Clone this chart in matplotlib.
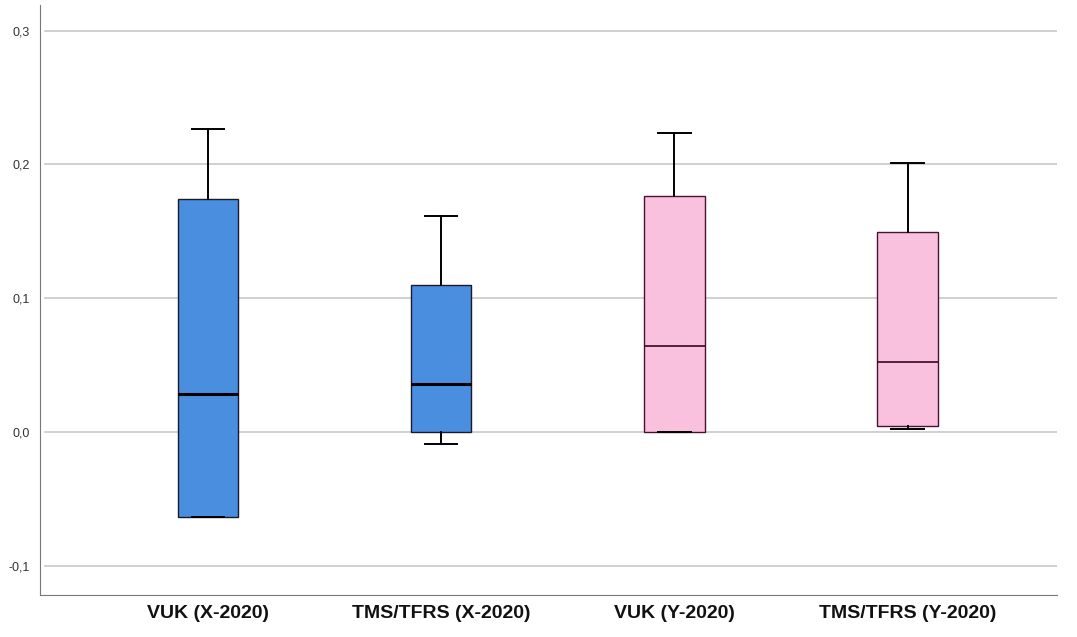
import matplotlib
matplotlib.use("Agg")
import matplotlib.pyplot as plt

categories = ["VUK (X-2020)", "TMS/TFRS (X-2020)", "VUK (Y-2020)", "TMS/TFRS (Y-2020)"]
whisker_low = [-0.064, -0.009, 0.0, 0.002]
q1 = [-0.064, 0.0, 0.0, 0.0045]
median = [0.028, 0.036, 0.064, 0.052]
q3 = [0.174, 0.110, 0.176, 0.1495]
whisker_high = [0.2265, 0.161, 0.2235, 0.201]
box_colors = ["#4a8ee0", "#4a8ee0", "#f9c1dd", "#f9c1dd"]
edge_colors = ["#1a1a2a", "#1a1a2a", "#4a1030", "#4a1030"]
median_widths = [2.2, 2.2, 1.2, 1.2]
yticks = [-0.1, 0.0, 0.1, 0.2, 0.3]
ytick_labels = ["-0,1", "0,0", "0,1", "0,2", "0,3"]

fig = plt.figure(figsize=(10.77, 6.37), dpi=100)
ax = fig.add_axes([0.0371, 0.066, 0.9443, 0.926])

stats = []
for i, c in enumerate(categories):
    stats.append(dict(label=c, whislo=whisker_low[i], q1=q1[i], med=median[i],
                      q3=q3[i], whishi=whisker_high[i], fliers=[]))

for i, s in enumerate(stats):
    ax.bxp([s], positions=[i + 1], widths=0.26, patch_artist=True,
           showfliers=False,
           boxprops=dict(facecolor=box_colors[i], edgecolor=edge_colors[i], linewidth=1.0),
           medianprops=dict(color="black" if i < 2 else "#3a0820", linewidth=median_widths[i]),
           whiskerprops=dict(color="black", linewidth=1.4),
           capprops=dict(color="black", linewidth=1.4),
           capwidths=0.14, zorder=3)

ax.set_xlim(0.28, 4.64)
ax.set_ylim(-0.122, 0.319)
ax.set_yticks(yticks)
ax.set_yticklabels(ytick_labels, fontsize=9, color="#333333", family="Liberation Sans")
ax.set_xticks([1, 2, 3, 4])
ax.set_xticklabels(categories, fontsize=14, fontweight="bold", family="Liberation Sans", color="#111111")
ax.tick_params(axis="y", length=0, pad=7)
ax.tick_params(axis="x", length=0, pad=7)
for y in yticks:
    ax.axhline(y, xmin=0.005, xmax=1.0, color="#c8c8c8", linewidth=1.2, zorder=1)
ax.spines["top"].set_visible(False)
ax.spines["right"].set_visible(False)
ax.spines["left"].set_color("#777777")
ax.spines["bottom"].set_color("#777777")

fig.savefig("out.png", dpi=100)
